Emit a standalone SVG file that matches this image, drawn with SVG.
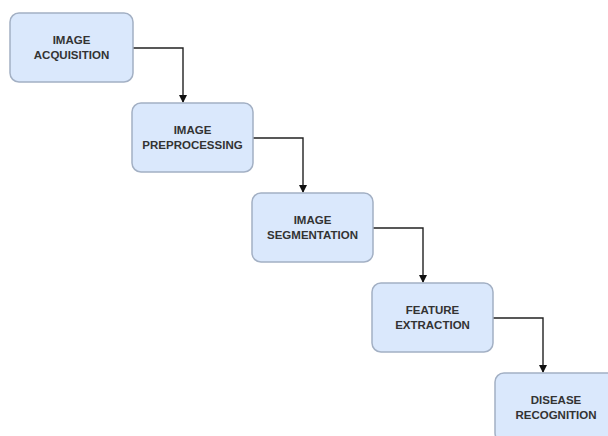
<svg xmlns="http://www.w3.org/2000/svg" width="608" height="436" viewBox="0 0 608 436">
<style>
.box{fill:#dae8fc;stroke:#a3b0c4;stroke-width:1.5}
.t{font-family:"Liberation Sans",Arial,sans-serif;font-weight:bold;font-size:11.5px;fill:#333;text-anchor:middle}
.c{fill:none;stroke:#222;stroke-width:1.4}
</style>
<defs>
<marker id="ah" markerWidth="8" markerHeight="8" refX="7" refY="4" orient="auto" markerUnits="userSpaceOnUse">
<path d="M0,0 L8,4 L0,8 Z" fill="#111"/>
</marker>
</defs>
<rect width="608" height="436" fill="#fff"/>
<g id="connectors">
<path class="c" d="M133,48 H183 V102" marker-end="url(#ah)"/>
<path class="c" d="M253,138 H303 V192" marker-end="url(#ah)"/>
<path class="c" d="M373,228 H423 V282" marker-end="url(#ah)"/>
<path class="c" d="M493,318 H543 V372" marker-end="url(#ah)"/>
</g>
<g id="n1">
<rect class="box" x="10" y="13" width="123" height="69" rx="9"/>
<text class="t" x="71.5" y="44">IMAGE</text>
<text class="t" x="71.5" y="59">ACQUISITION</text>
</g>
<g id="n2">
<rect class="box" x="132" y="103" width="121" height="69" rx="9"/>
<text class="t" x="192.5" y="134">IMAGE</text>
<text class="t" x="192.5" y="149">PREPROCESSING</text>
</g>
<g id="n3">
<rect class="box" x="252" y="193" width="121" height="69" rx="9"/>
<text class="t" x="312.5" y="224">IMAGE</text>
<text class="t" x="312.5" y="239">SEGMENTATION</text>
</g>
<g id="n4">
<rect class="box" x="372" y="283" width="121" height="69" rx="9"/>
<text class="t" x="432.5" y="314">FEATURE</text>
<text class="t" x="432.5" y="329">EXTRACTION</text>
</g>
<g id="n5">
<rect class="box" x="495" y="373" width="122" height="69" rx="9"/>
<text class="t" x="556" y="404">DISEASE</text>
<text class="t" x="556" y="419">RECOGNITION</text>
</g>
</svg>
